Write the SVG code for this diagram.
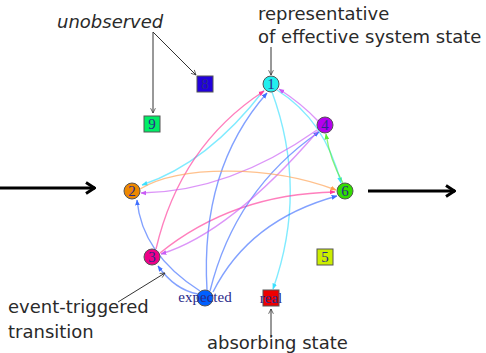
<svg xmlns="http://www.w3.org/2000/svg" width="486" height="353" viewBox="0 0 486 353">
<defs>
<style>
.ann{font-family:"DejaVu Sans",sans-serif;font-size:18px;fill:#2a2a2a}
.lbl{font-family:"Liberation Serif",serif;font-size:15px;fill:#2a2a8a;text-anchor:middle}
.node{stroke:#555;stroke-width:1}
.e{fill:none;stroke-width:1.4;stroke-opacity:0.65}
.pt{stroke:#333;stroke-width:1;fill:none}
.big{stroke:#000;stroke-width:3;fill:none}
</style>
<marker id="ac" viewBox="0 0 10 10" refX="9" refY="5" markerWidth="6" markerHeight="6" orient="auto" markerUnits="userSpaceOnUse"><path d="M0,1 L10,5 L0,9 z" fill="#3ce0ff"/></marker>
<marker id="ap" viewBox="0 0 10 10" refX="9" refY="5" markerWidth="6" markerHeight="6" orient="auto" markerUnits="userSpaceOnUse"><path d="M0,1 L10,5 L0,9 z" fill="#ff3b9a"/></marker>
<marker id="ab" viewBox="0 0 10 10" refX="9" refY="5" markerWidth="6" markerHeight="6" orient="auto" markerUnits="userSpaceOnUse"><path d="M0,1 L10,5 L0,9 z" fill="#3f6fff"/></marker>
<marker id="av" viewBox="0 0 10 10" refX="9" refY="5" markerWidth="6" markerHeight="6" orient="auto" markerUnits="userSpaceOnUse"><path d="M0,1 L10,5 L0,9 z" fill="#c95cf5"/></marker>
<marker id="ao" viewBox="0 0 10 10" refX="9" refY="5" markerWidth="6" markerHeight="6" orient="auto" markerUnits="userSpaceOnUse"><path d="M0,1 L10,5 L0,9 z" fill="#ffa050"/></marker>
<marker id="ag" viewBox="0 0 10 10" refX="9" refY="5" markerWidth="6" markerHeight="6" orient="auto" markerUnits="userSpaceOnUse"><path d="M0,1 L10,5 L0,9 z" fill="#55ee33"/></marker>
<marker id="at" viewBox="0 0 10 10" refX="9" refY="5" markerWidth="6" markerHeight="6" orient="auto" markerUnits="userSpaceOnUse"><path d="M1,1 L9,5 L1,9" fill="none" stroke="#333" stroke-width="1.2"/></marker>
<marker id="ak" viewBox="0 0 12 14" refX="11" refY="7" markerWidth="12" markerHeight="14" orient="auto" markerUnits="userSpaceOnUse"><path d="M2,1.5 L10.5,7 L2,12.5" fill="none" stroke="#000" stroke-width="3"/></marker>
</defs>
<rect width="486" height="353" fill="#fff"/>

<g id="edges">
<path class="e" stroke="#3ce0ff" d="M264,90 Q208,163 142,185" marker-end="url(#ac)"/>
<path class="e" stroke="#3ce0ff" d="M277,90 Q325,120 341,183" marker-end="url(#ac)"/>
<path class="e" stroke="#3ce0ff" d="M272,92 Q308,190 273,289" marker-end="url(#ac)"/>
<path class="e" stroke="#ff3b9a" d="M156,249 Q180,146 264,91" marker-end="url(#ap)"/>
<path class="e" stroke="#ff3b9a" d="M160,253 Q233,194 335,192" marker-end="url(#ap)"/>
<path class="e" stroke="#3f6fff" d="M207,290 Q200,169 267,93" marker-end="url(#ab)"/>
<path class="e" stroke="#3f6fff" d="M200,291 Q142,254 137,200" marker-end="url(#ab)"/>
<path class="e" stroke="#3f6fff" d="M198,294 Q175,290 158,266" marker-end="url(#ab)"/>
<path class="e" stroke="#3f6fff" d="M210,291 Q235,190 319,132" marker-end="url(#ab)"/>
<path class="e" stroke="#3f6fff" d="M213,292 Q249,220 337,196" marker-end="url(#ab)"/>
<path class="e" stroke="#c95cf5" d="M318,121 Q302,104 279,89" marker-end="url(#av)"/>
<path class="e" stroke="#c95cf5" d="M317,130 Q229,192 141,193" marker-end="url(#av)"/>
<path class="e" stroke="#c95cf5" d="M318,131 Q230,233 161,254" marker-end="url(#av)"/>
<path class="e" stroke="#ffa050" d="M140,189 C180,165 270,165 336,190" marker-end="url(#ao)"/>
<path class="e" stroke="#55ee33" d="M343,183 Q330,160 326,134" marker-end="url(#ag)"/>
</g>

<g id="annotations">
<path class="pt" d="M153,32 L153,113" marker-end="url(#at)"/>
<path class="pt" d="M153,32 L196,75" marker-end="url(#at)"/>
<path class="pt" d="M271,47 L271,75" marker-end="url(#at)"/>
<path class="pt" d="M118,302 L165,273" marker-end="url(#at)"/>
<path class="pt" d="M271,338 L271,309" marker-end="url(#at)"/>
<path class="big" d="M0,188 L95,188" marker-end="url(#ak)"/>
<path class="big" d="M368,191 L455,191" marker-end="url(#ak)"/>
<text class="ann" x="57" y="28" font-style="italic">unobserved</text>
<text class="ann" x="258" y="20">representative</text>
<text class="ann" x="258" y="43">of effective system state</text>
<text class="ann" x="8" y="313">event-triggered</text>
<text class="ann" x="8" y="338">transition</text>
<text class="ann" x="207" y="349">absorbing state</text>
</g>

<g id="n1"><circle class="node" cx="271" cy="84" r="8" fill="#22eeee"/><text class="lbl" x="271" y="89">1</text></g>
<g id="n4"><circle class="node" cx="325" cy="125" r="8" fill="#b400ee"/><text class="lbl" x="325" y="130">4</text></g>
<g id="n6"><circle class="node" cx="345" cy="191" r="8" fill="#33dd00"/><text class="lbl" x="345" y="196">6</text></g>
<g id="n2"><circle class="node" cx="132" cy="191" r="8" fill="#ee8800"/><text class="lbl" x="132" y="196">2</text></g>
<g id="n3"><circle class="node" cx="152" cy="257" r="8" fill="#ee0088"/><text class="lbl" x="152" y="262">3</text></g>
<g id="nexpected"><circle class="node" cx="205" cy="298" r="8" fill="#0060ff"/><text class="lbl" x="205" y="302">expected</text></g>
<g id="nreal"><rect class="node" x="263" y="290" width="16" height="16" fill="#ee0000"/><text class="lbl" x="271" y="303">real</text></g>
<g id="n5"><rect class="node" x="317" y="249" width="16" height="16" fill="#ccee00"/><text class="lbl" x="325" y="262">5</text></g>
<g id="n8"><rect class="node" x="197" y="76" width="16" height="16" fill="#2200dd"/><text class="lbl" x="205" y="89">8</text></g>
<g id="n9"><rect class="node" x="144" y="116" width="16" height="16" fill="#00ee66"/><text class="lbl" x="152" y="129">9</text></g>
</svg>
